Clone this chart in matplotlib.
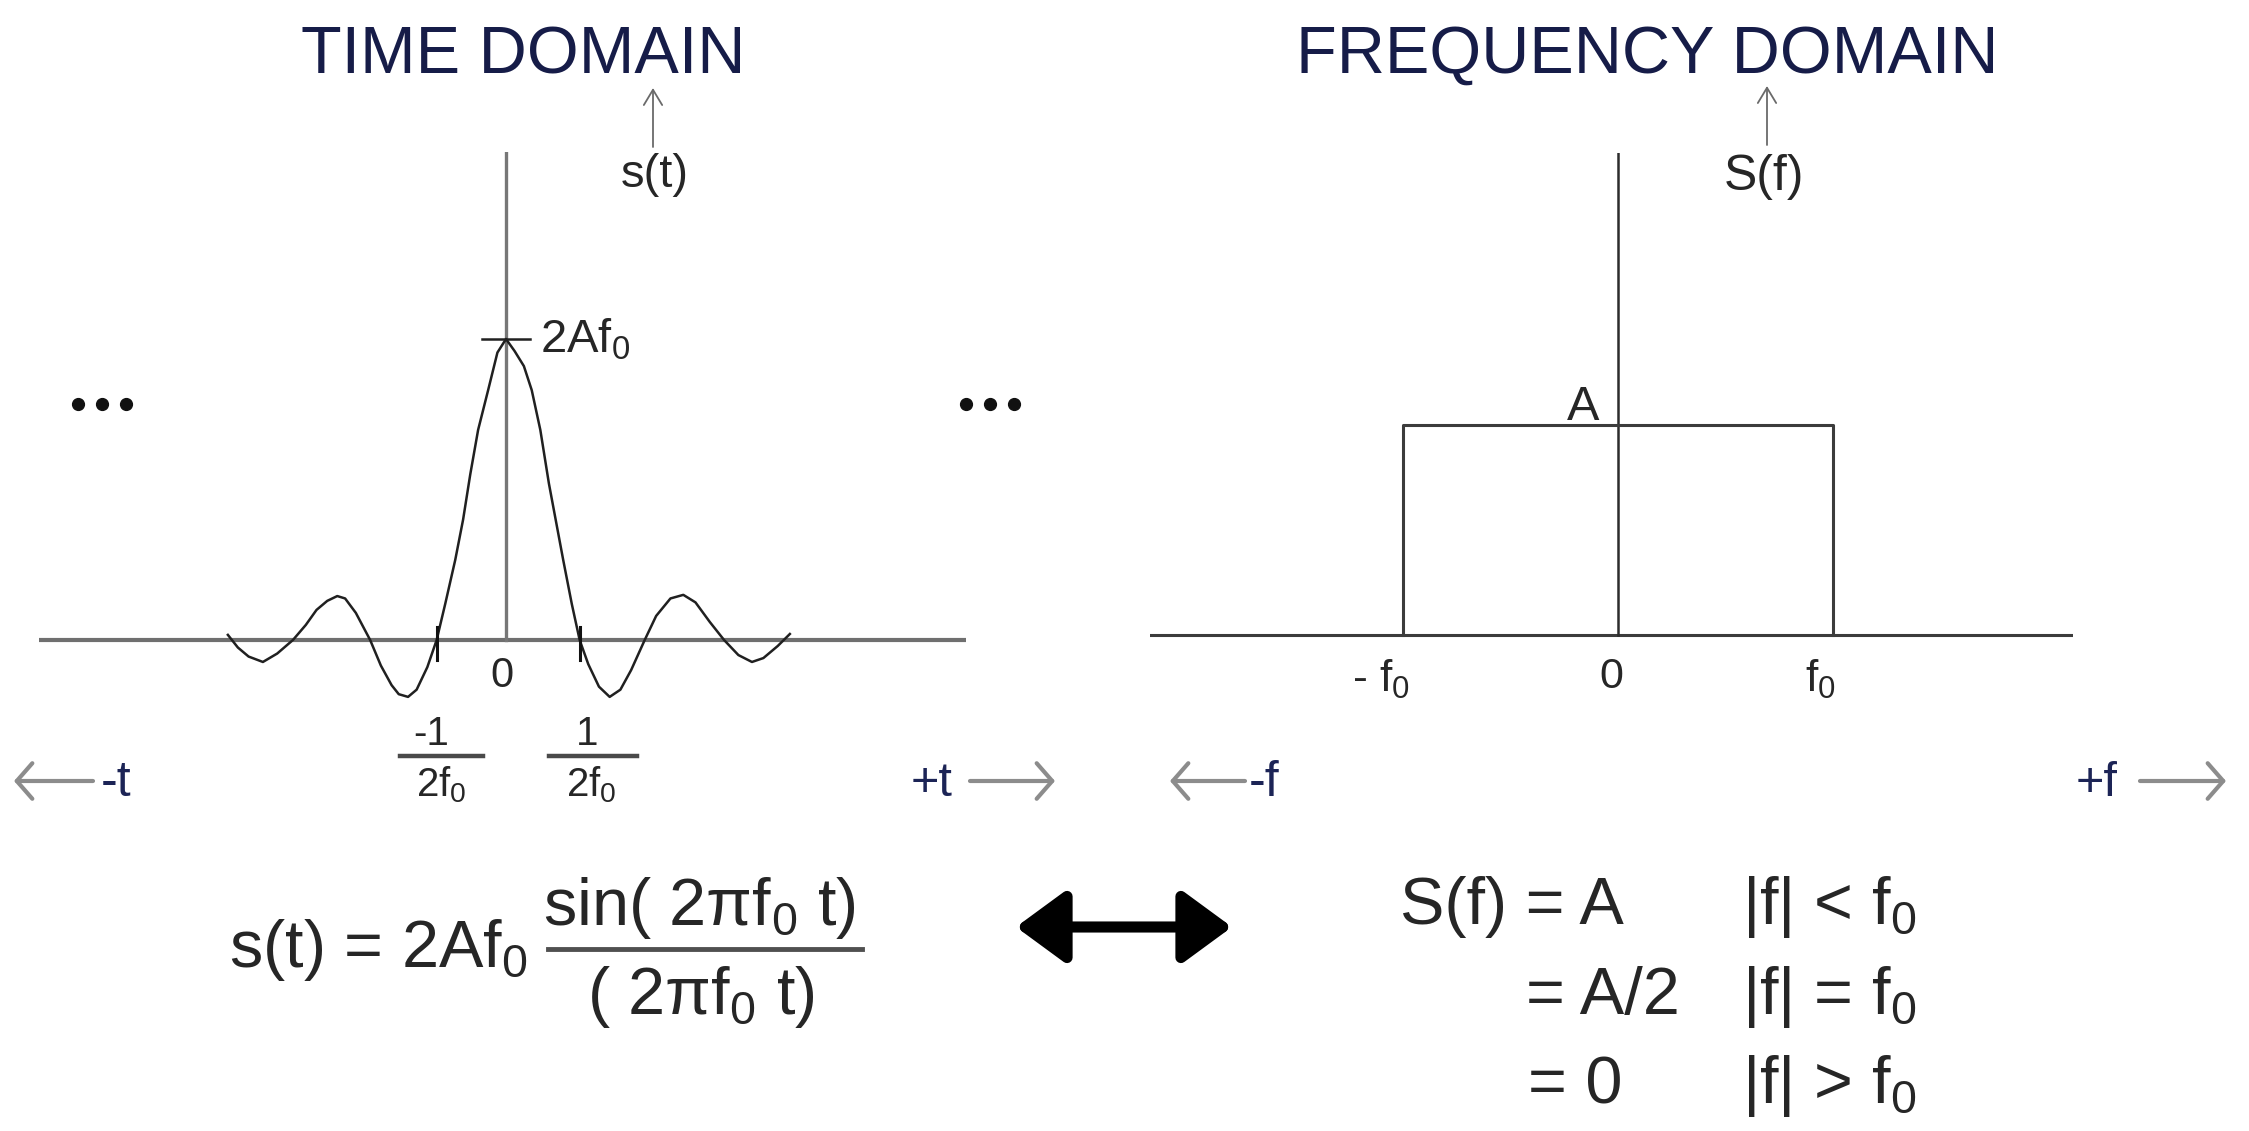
import matplotlib
matplotlib.use("Agg")
import matplotlib.pyplot as plt
from matplotlib.lines import Line2D

plt.rcParams["font.family"] = ["Liberation Sans", "DejaVu Sans"]
plt.rcParams["mathtext.fontset"] = "custom"
plt.rcParams["mathtext.rm"] = "Liberation Sans"
plt.rcParams["mathtext.it"] = "Liberation Sans"

W, H = 2249, 1131

# time domain curve, t in units of 1/(2 f0), s(t) in units of 2 A f0
TIME_U = [-3.89, -3.75, -3.6, -3.4, -3.2, -2.98, -2.8, -2.65, -2.5, -2.36, -2.25,
          -2.1, -1.9, -1.75, -1.6, -1.5, -1.37, -1.25, -1.1, -0.97, -0.85, -0.71,
          -0.6, -0.5, -0.39, -0.25, -0.12, 0.0, 0.12, 0.25, 0.36, 0.48, 0.6, 0.8,
          0.92, 1.03, 1.15, 1.3, 1.45, 1.6, 1.75, 1.94, 2.1, 2.3, 2.48, 2.65, 2.85,
          3.05, 3.25, 3.44, 3.6, 3.8, 3.97]
TIME_S = [0.017, -0.025, -0.055, -0.073, -0.045, 0.0, 0.05, 0.1, 0.13, 0.146, 0.138,
          0.09, 0.0, -0.085, -0.15, -0.18, -0.189, -0.165, -0.09, 0.0, 0.12, 0.266,
          0.40, 0.55, 0.698, 0.83, 0.955, 1.0, 0.96, 0.91, 0.83, 0.698, 0.52, 0.266,
          0.12, 0.0, -0.08, -0.155, -0.189, -0.165, -0.1, 0.0, 0.08, 0.138, 0.15,
          0.125, 0.06, 0.0, -0.05, -0.073, -0.06, -0.02, 0.02]
ZERO_MARKS = [-0.97, 1.03]
PEAK = 1.0

# frequency domain rectangle, f in units of f0, S(f) in units of A
RECT_F = [-1, -1, 1, 1]
RECT_S = [0, 1, 1, 0]

NAVY = "#161c48"
BLUE = "#1c2456"
INK = "#262626"


def px_axes(fig, x0, y0, x1, y1):
    return fig.add_axes([x0 / W, 1 - y1 / H, (x1 - x0) / W, (y1 - y0) / H])


fig = plt.figure(figsize=(W / 100, H / 100), dpi=100)

# overlay in pixel coordinates for the labels
ov = fig.add_axes([0, 0, 1, 1])
ov.set_xlim(0, W)
ov.set_ylim(H, 0)
ov.axis("off")

# ---- time domain axes
t_cx, t_unit, t_zero, t_peak = 506, 71.5, 640, 339
ax_t = px_axes(fig, 39, 152, 966, 720)
ax_t.set_xlim((39 - t_cx) / t_unit, (966 - t_cx) / t_unit)
s_unit = t_zero - t_peak
ax_t.set_ylim((t_zero - 720) / s_unit, (t_zero - 152) / s_unit)
ax_t.axis("off")
ax_t.axhline(0, color="#6f6f6f", lw=3)
ax_t.plot([0, 0], [0, ax_t.get_ylim()[1]], color="#777777", lw=2.4)
ax_t.plot(TIME_U, TIME_S, color="#202020", lw=1.8, solid_joinstyle="round", clip_on=False)
ax_t.plot([-0.33, 0.33], [PEAK, PEAK], color="#202020", lw=1.8)
for u in ZERO_MARKS:
    ax_t.plot([u, u], [-0.066, 0.043], color="#111111", lw=2.2)

# ---- frequency domain axes
f_cx, f_unit, f_zero, f_top = 1618, 215, 635, 425
ax_f = px_axes(fig, 1150, 153, 2073, 720)
ax_f.set_xlim((1150 - f_cx) / f_unit, (2073 - f_cx) / f_unit)
a_unit = f_zero - f_top
ax_f.set_ylim((f_zero - 720) / a_unit, (f_zero - 153) / a_unit)
ax_f.axis("off")
ax_f.axhline(0, color="#3c3c3c", lw=2.2)
ax_f.plot([0, 0], [0, ax_f.get_ylim()[1]], color="#2c2c2c", lw=1.8)
ax_f.plot(RECT_F, RECT_S, color="#3c3c3c", lw=2.2)

# ---- titles and axis names
ov.text(523, 73, "TIME DOMAIN", fontsize=48, color=NAVY, ha="center", va="baseline")
ov.text(1647, 73, "FREQUENCY DOMAIN", fontsize=48, color=NAVY, ha="center", va="baseline")

arrow_small = dict(arrowstyle="->,head_length=0.5,head_width=0.3", color="#6a6a6a",
                   lw=1.3, mutation_scale=22, shrinkA=0, shrinkB=0)
ov.annotate("", xy=(653, 88), xytext=(653, 147), arrowprops=arrow_small)
ov.annotate("", xy=(1767, 86), xytext=(1767, 145), arrowprops=arrow_small)
ov.text(655, 187, "s(t)", fontsize=34, color=INK, ha="center", va="baseline")
ov.text(1764, 190, "S(f)", fontsize=36, color=INK, ha="center", va="baseline")

# ---- time domain labels
ov.text(540, 353, "2Af$_0$", fontsize=34, color=INK, ha="left", va="baseline")
ov.text(502, 687, "0", fontsize=30, color=INK, ha="center", va="baseline")
ov.text(431, 745, "-1", fontsize=29, color=INK, ha="center", va="baseline")
ov.text(441, 796, "2f$_0$", fontsize=29, color=INK, ha="center", va="baseline")
ov.text(587, 745, "1", fontsize=29, color=INK, ha="center", va="baseline")
ov.text(591, 796, "2f$_0$", fontsize=29, color=INK, ha="center", va="baseline")
for x0, x1 in [(400, 483), (549, 637)]:
    ov.add_line(Line2D([x0, x1], [756, 756], color="#4a4a4a", lw=3.2))

for xs in [(78, 102, 126), (966, 990, 1014)]:
    ov.plot(xs, [404, 404, 404], ls="none", marker="o", ms=8.5, color="#111111")

# ---- frequency domain labels
ov.text(1583, 420, "A", fontsize=35, color=INK, ha="center", va="baseline")
ov.text(1611, 688, "0", fontsize=31, color=INK, ha="center", va="baseline")
ov.text(1805, 692, "f$_0$", fontsize=32, color=INK, ha="left", va="baseline")
ov.text(1352, 692, "- f$_0$", fontsize=32, color=INK, ha="left", va="baseline")

# ---- direction arrows
arrow_dir = dict(arrowstyle="->,head_length=0.35,head_width=0.4", color="#8c8c8c",
                 lw=3, mutation_scale=32, shrinkA=0, shrinkB=0)
for tail, head in [(93, 14), (970, 1055), (1245, 1170), (2140, 2226)]:
    ov.annotate("", xy=(head, 781), xytext=(tail, 781), arrowprops=arrow_dir)
ov.text(101, 796, "-t", fontsize=36, color=BLUE, ha="left", va="baseline")
ov.text(911, 796, "+t", fontsize=35, color=BLUE, ha="left", va="baseline")
ov.text(1249, 796, "-f", fontsize=36, color=BLUE, ha="left", va="baseline")
ov.text(2076, 796, "+f", fontsize=35, color=BLUE, ha="left", va="baseline")

# ---- formulas
FS = 48
ov.text(229, 967, "s(t) = 2Af$_0$", fontsize=FS, color=INK, ha="left", va="baseline")
ov.text(699, 925, "sin( 2\u03c0f$_0$ t)", fontsize=FS, color=INK, ha="center", va="baseline")
ov.add_line(Line2D([548, 862], [949, 949], color="#505050", lw=3.5))
ov.text(701, 1014, "( 2\u03c0f$_0$ t)", fontsize=FS, color=INK, ha="center", va="baseline")

ov.annotate("", xy=(1016, 927), xytext=(1232, 927),
            arrowprops=dict(arrowstyle="<|-|>,head_length=0.75,head_width=0.55",
                            color="black", lw=8, mutation_scale=40,
                            shrinkA=0, shrinkB=0))

ov.text(1400, 924, "S(f) = A", fontsize=FS, color=INK, ha="left", va="baseline")
ov.text(1526, 1014, "= A/2", fontsize=FS, color=INK, ha="left", va="baseline")
ov.text(1528, 1103, "= 0", fontsize=FS, color=INK, ha="left", va="baseline")
ov.text(1742, 924, "|f| < f$_0$", fontsize=FS, color=INK, ha="left", va="baseline")
ov.text(1742, 1014, "|f| = f$_0$", fontsize=FS, color=INK, ha="left", va="baseline")
ov.text(1742, 1103, "|f| > f$_0$", fontsize=FS, color=INK, ha="left", va="baseline")

fig.savefig("out.png", dpi=100, facecolor="white")
